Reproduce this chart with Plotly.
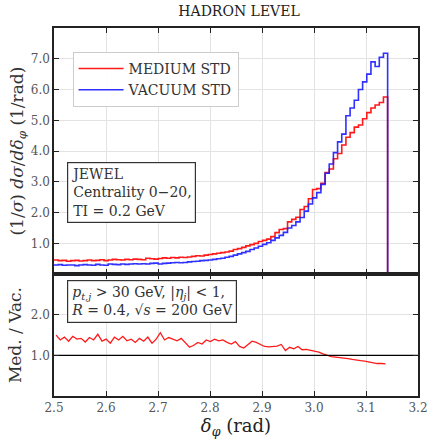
import numpy as np
import plotly.graph_objects as go

# ---- data ----
x_min, x_max = 2.5, np.pi
n_bins = 80
edges = np.linspace(x_min, x_max, n_bins + 1)
centers = 0.5 * (edges[:-1] + edges[1:])

vacuum_std = [
    0.30, 0.31, 0.29, 0.30, 0.30, 0.28, 0.30, 0.31, 0.30, 0.29,
    0.32, 0.30, 0.29, 0.33, 0.32, 0.31, 0.33, 0.32, 0.33, 0.34,
    0.33, 0.34, 0.33, 0.35, 0.36, 0.33, 0.35, 0.36, 0.37, 0.38,
    0.37, 0.38, 0.40, 0.41, 0.42, 0.44, 0.45, 0.46, 0.48, 0.50,
    0.52, 0.55, 0.58, 0.62, 0.66, 0.70, 0.74, 0.80, 0.85, 0.91,
    0.97, 1.02, 1.10, 1.18, 1.26, 1.36, 1.50, 1.58, 1.70, 1.84,
    2.05, 2.28, 2.48, 2.65, 2.92, 3.28, 3.58, 3.95, 4.30, 4.55,
    5.15, 5.40, 5.65, 6.00, 6.25, 6.50, 6.90, 6.75, 7.05, 7.18,
]
medium_std = [
    0.46, 0.44, 0.45, 0.42, 0.44, 0.45, 0.43, 0.44, 0.46, 0.44,
    0.45, 0.47, 0.44, 0.46, 0.48, 0.47, 0.46, 0.48, 0.47, 0.49,
    0.48, 0.47, 0.52, 0.50, 0.49, 0.51, 0.53, 0.52, 0.54, 0.53,
    0.55, 0.54, 0.56, 0.58, 0.60, 0.59, 0.62, 0.64, 0.66, 0.68,
    0.70, 0.72, 0.75, 0.80, 0.83, 0.87, 0.92, 0.96, 1.00, 1.06,
    1.10, 1.14, 1.22, 1.35, 1.45, 1.48, 1.70, 1.78, 1.85, 2.10,
    2.20, 2.45, 2.75, 2.78, 2.95, 3.30, 3.42, 3.75, 3.92, 4.20,
    4.45, 4.60, 4.78, 4.85, 5.05, 5.25, 5.40, 5.50, 5.58, 5.76,
]
ratio_med_vac = [
    1.50, 1.38, 1.45, 1.35, 1.47, 1.40, 1.42, 1.33, 1.44, 1.38,
    1.52, 1.35, 1.40, 1.30, 1.45, 1.38, 1.47, 1.36, 1.40, 1.32,
    1.42, 1.35, 1.45, 1.30, 1.40, 1.56, 1.38, 1.44, 1.40, 1.36,
    1.42, 1.30, 1.20, 1.25, 1.32, 1.28, 1.38, 1.34, 1.40, 1.36,
    1.38, 1.32, 1.28, 1.34, 1.22, 1.18, 1.26, 1.35, 1.32, 1.28,
    1.22, 1.21, 1.22, 1.23, 1.27, 1.12, 1.20, 1.16, 1.22, 1.14,
    1.15, 1.13, 1.10, 1.08, 1.04, 1.00, 0.97, 0.96, 0.95, 0.94,
    0.92, 0.90, 0.88, 0.87, 0.86, 0.84, 0.82, 0.80, 0.80, 0.79,
]
x_ticks = [2.5, 2.6, 2.7, 2.8, 2.9, 3.0, 3.1, 3.2]
y_ticks_top = [1, 2, 3, 4, 5, 6, 7]
y_ticks_bot = [1, 2]

RED = "#ff1a1a"
BLUE = "#1a1aff"
FONT = "DejaVu Serif"


def step_xy(vals):
    xs = list(edges[:-1]) + [edges[-1], edges[-1]]
    ys = list(vals) + [vals[-1], 0.0]
    return xs, ys


fig = go.Figure()
xm, ym = step_xy(medium_std)
fig.add_trace(go.Scatter(x=xm, y=ym, mode="lines", line=dict(color=RED, width=1.6, shape="hv"),
                         name="MEDIUM STD", xaxis="x", yaxis="y"))
xv, yv = step_xy(vacuum_std)
fig.add_trace(go.Scatter(x=xv, y=yv, mode="lines", line=dict(color=BLUE, width=1.6, shape="hv"),
                         name="VACUUM STD", xaxis="x", yaxis="y", opacity=0.9))
fig.add_trace(go.Scatter(x=centers, y=ratio_med_vac, mode="lines", line=dict(color=RED, width=1.3),
                         showlegend=False, xaxis="x2", yaxis="y2"))
fig.add_trace(go.Scatter(x=[2.5, 3.2], y=[1, 1], mode="lines", line=dict(color="black", width=1.2),
                         showlegend=False, xaxis="x2", yaxis="y2", hoverinfo="skip"))

split = 0.331
axis_common = dict(showline=True, linecolor="#222", linewidth=1.5, mirror="ticks",
                   ticks="inside", ticklen=5, tickcolor="#222",
                   showgrid=True, gridcolor="#e3e3e3", gridwidth=1, zeroline=False,
                   tickfont=dict(family=FONT, size=12, color="#555"))

fig.update_layout(
    width=437, height=441,
    margin=dict(l=54, r=9, t=28, b=41),
    paper_bgcolor="white", plot_bgcolor="white",
    font=dict(family=FONT),
    title=dict(text="HADRON LEVEL", x=0.547, xanchor="center", y=0.985, yanchor="top",
               font=dict(family=FONT, size=14, color="#222")),
    showlegend=True,
    legend=dict(x=0.051, y=0.935, xanchor="left", yanchor="top",
                bgcolor="rgba(255,255,255,0.9)", bordercolor="#cccccc", borderwidth=1,
                font=dict(family=FONT, size=14, color="#333"), itemwidth=45, tracegroupgap=0),
    xaxis=dict(domain=[0, 1], range=[2.5, 3.2], anchor="y", tickvals=x_ticks,
               showticklabels=False, **axis_common),
    yaxis=dict(domain=[split, 1], range=[0, 8], anchor="x", tickvals=y_ticks_top,
               tickformat=".1f",
               title=dict(text="(1/<i>σ</i>) <i>dσ</i>/<i>dδ</i><sub><i>φ</i></sub> (1/rad)",
                          font=dict(family=FONT, size=17, color="#333"), standoff=3),
               **axis_common),
    xaxis2=dict(domain=[0, 1], range=[2.5, 3.2], anchor="y2", tickvals=x_ticks,
                tickformat=".1f",
                title=dict(text="<i>δ</i><sub><i>φ</i></sub> (rad)",
                           font=dict(family=FONT, size=18, color="#222"), standoff=4),
                **axis_common),
    yaxis2=dict(domain=[0, split], range=[0, 3], anchor="x2", tickvals=y_ticks_bot,
                tickformat=".1f",
                title=dict(text="Med. / Vac.", font=dict(family=FONT, size=17, color="#333"),
                           standoff=5),
                **axis_common),
    annotations=[
        dict(text="JEWEL<br>Centrality 0−20,<br>TI = 0.2 GeV", xref="paper", yref="paper",
             x=0.035, y=0.635, xanchor="left", yanchor="top", align="left", showarrow=False,
             font=dict(family=FONT, size=14, color="#333"), bgcolor="white",
             bordercolor="#333", borderwidth=1.2, borderpad=3),
        dict(text="<i>p</i><sub><i>t,j</i></sub> > 30 GeV, |<i>η</i><sub><i>j</i></sub>| < 1,<br>"
                  "<i>R</i> = 0.4, √<i>s</i> = 200 GeV",
             xref="paper", yref="paper",
             x=0.035, y=0.315, xanchor="left", yanchor="top", align="left", showarrow=False,
             font=dict(family=FONT, size=14, color="#333"), bgcolor="white",
             bordercolor="#333", borderwidth=1.2, borderpad=3),
    ],
)

fig.write_html("out.html")
